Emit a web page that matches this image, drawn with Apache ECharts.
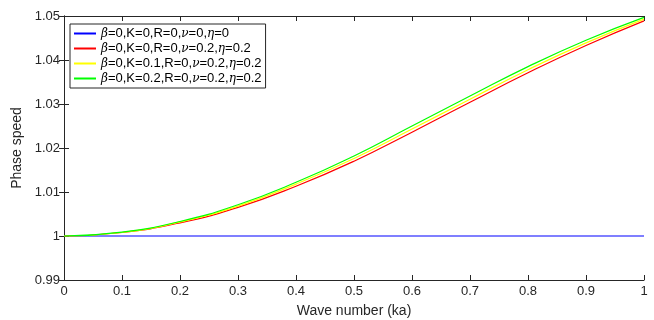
<!DOCTYPE html>
<html>
<head>
<meta charset="utf-8">
<script src="https://cdn.jsdelivr.net/npm/echarts@6/dist/echarts.min.js"></script>
<style>
  html, body { margin: 0; padding: 0; background: #fff; }
  #chart { width: 654px; height: 320px; }
</style>
</head>
<body>
<div id="chart"></div>
<script>
// wave number (ka)
const waveNumber = [0, 0.1, 0.2, 0.3, 0.4, 0.5, 0.6, 0.7, 0.8, 0.9, 1.0];
// phase speed for each parameter set
const speedBase = [1, 1, 1, 1, 1, 1, 1, 1, 1, 1, 1];
const speedNu = [1.0000, 1.0008, 1.0030, 1.0065, 1.0113, 1.0170, 1.0236, 1.0304, 1.0371, 1.0433, 1.0489];
const speedK1 = [1.0000, 1.0008, 1.0032, 1.0068, 1.0118, 1.0176, 1.0243, 1.0311, 1.0378, 1.0439, 1.0493];
const speedK2 = [1.0000, 1.0009, 1.0033, 1.0071, 1.0122, 1.0182, 1.0250, 1.0318, 1.0385, 1.0445, 1.0497];
const legendNames = [
  '{g|β}=0,K=0,R=0,{g|ν}=0,{g|η}=0',
  '{g|β}=0,K=0,R=0,{g|ν}=0.2,{g|η}=0.2',
  '{g|β}=0,K=0.1,R=0,{g|ν}=0.2,{g|η}=0.2',
  '{g|β}=0,K=0.2,R=0,{g|ν}=0.2,{g|η}=0.2'
];
const xTicks = ['0', '0.1', '0.2', '0.3', '0.4', '0.5', '0.6', '0.7', '0.8', '0.9', '1'];

const font = 'Liberation Sans, Arial, sans-serif';
const axisColor = '#262626';

const chart = echarts.init(document.getElementById('chart'));

function line(name, vals, color) {
  return {
    name: name,
    type: 'line',
    smooth: true,
    symbol: 'none',
    data: waveNumber.map((x, i) => [x, vals[i]]),
    lineStyle: { color: color, width: 1.2 },
    itemStyle: { color: color }
  };
}

const frameAxis = {
  axisLine: { show: true, lineStyle: { color: axisColor, width: 1 } },
  axisTick: { show: true, inside: true, length: 5, lineStyle: { color: axisColor } },
  splitLine: { show: false }
};

chart.setOption({
  animation: false,
  backgroundColor: '#fff',
  grid: { left: 64, right: 10, top: 16, bottom: 40, containLabel: false, outerBoundsMode: 'none' },
  legend: {
    orient: 'vertical',
    left: 70,
    top: 24,
    padding: [3, 4, 3, 4],
    itemGap: 2,
    itemWidth: 22,
    itemHeight: 2,
    icon: 'rect',
    backgroundColor: '#fff',
    borderColor: axisColor,
    borderWidth: 1,
    textStyle: {
      fontFamily: font, fontSize: 13, color: '#000',
      rich: { g: { fontFamily: 'DejaVu Serif, serif', fontStyle: 'italic', fontSize: 12, color: '#000' } }
    },
    data: legendNames
  },
  xAxis: [
    Object.assign({
      type: 'value', min: 0, max: 1, interval: 0.1,
      name: 'Wave number (ka)', nameLocation: 'middle', nameGap: 24,
      nameTextStyle: { fontFamily: font, fontSize: 14, color: axisColor },
      axisLabel: {
        fontFamily: font, fontSize: 13, color: axisColor, margin: 5,
        formatter: (v) => xTicks[Math.round(v * 10)]
      }
    }, frameAxis),
    Object.assign({
      type: 'value', min: 0, max: 1, interval: 0.1, position: 'top',
      axisLabel: { show: false }
    }, frameAxis)
  ],
  yAxis: [
    Object.assign({
      type: 'value', min: 0.99, max: 1.05, interval: 0.01,
      name: 'Phase speed', nameLocation: 'middle', nameGap: 38,
      nameTextStyle: { fontFamily: font, fontSize: 14, color: axisColor },
      axisLabel: {
        fontFamily: font, fontSize: 13, color: axisColor, margin: 4,
        formatter: (v) => String(Math.round(v * 100) / 100)
      }
    }, frameAxis),
    Object.assign({
      type: 'value', min: 0.99, max: 1.05, interval: 0.01, position: 'right',
      axisLabel: { show: false }
    }, frameAxis)
  ],
  series: [
    line(legendNames[0], speedBase, '#0000ff'),
    line(legendNames[1], speedNu, '#ff0000'),
    line(legendNames[2], speedK1, '#ffff00'),
    line(legendNames[3], speedK2, '#00ff00')
  ]
});
</script>
</body>
</html>
